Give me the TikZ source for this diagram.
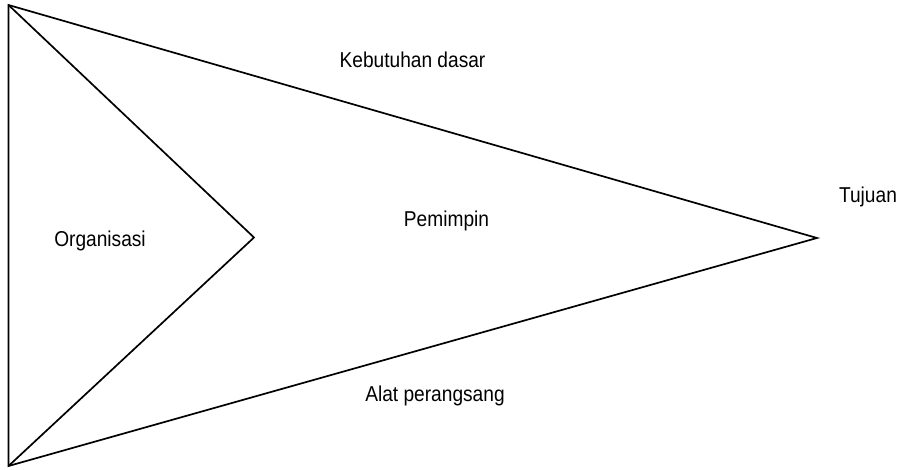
\documentclass[tikz,border=0pt]{standalone}
\usepackage{fontspec}
\setmainfont{Liberation Sans}[FakeStretch=0.89]
\begin{document}
\begin{tikzpicture}[x=1pt,y=-1pt,
  edge/.style={line width=1.7pt,line join=miter},
  lbl/.style={font=\fontsize{21.5}{24}\selectfont,anchor=base,inner sep=0pt}]
\useasboundingbox (0,0) rectangle (901,470);
\coordinate (top) at (8.5,5);
\coordinate (bot) at (8.5,466);
\coordinate (tip) at (817,238);
\coordinate (mid) at (254,237.5);
\draw[edge] (tip) -- (top) -- (bot) -- cycle;
\draw[edge] (top) -- (mid) -- (bot);
\node[lbl] (kd) at (412.5,68) {Kebutuhan dasar};
\node[lbl] (tj) at (868,203) {Tujuan};
\node[lbl] (pm) at (446.5,226) {Pemimpin};
\node[lbl] (org) at (100,247) {Organisasi};
\node[lbl] (ap) at (435,401) {Alat perangsang};
\end{tikzpicture}
\end{document}
